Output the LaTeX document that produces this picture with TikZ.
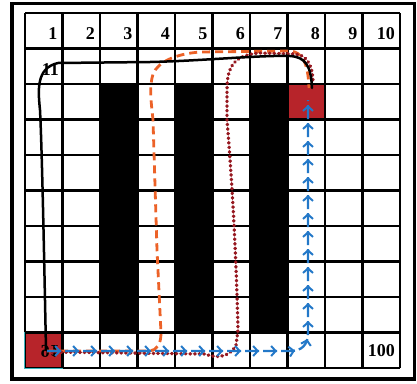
\documentclass[tikz,border=0pt]{standalone}
\usepackage{fontspec}
\setmainfont{Liberation Serif}
\usetikzlibrary{arrows.meta,decorations.markings}
\definecolor{cellred}{RGB}{183,36,42}
\definecolor{pathorange}{RGB}{236,98,40}
\definecolor{pathmaroon}{RGB}{150,24,32}
\definecolor{pathblue}{RGB}{35,120,200}
\definecolor{edgeteal}{RGB}{60,180,190}
\begin{document}
\begin{tikzpicture}[x=1pt,y=-1pt,
  gridline/.style={line width=2.2pt},
  framebox/.style={line width=3.8pt},
  num/.style={font=\fontsize{18}{18}\selectfont\bfseries, anchor=east, inner sep=0pt},
  redcell/.style={fill=cellred, draw=none, minimum width=37.5pt, minimum height=35.5pt, inner sep=0pt},
  blackroute/.style={line width=2.5pt, line cap=round},
  orangeroute/.style={pathorange, line width=2.8pt, dash pattern=on 8pt off 5pt},
  maroonroute/.style={pathmaroon, line width=3.4pt, line cap=round, dash pattern=on 0.6pt off 4pt},
  blueroute/.style={pathblue, line width=2.3pt, dash pattern=on 14pt off 4pt,
    postaction={decorate},
    decoration={markings, mark=between positions 14pt and 1 step 18pt with {\arrow[pathblue, line width=2pt]{Straight Barb[length=4.5pt,width=10pt]}}}}
]
\useasboundingbox (0,0) rectangle (417,383);
% frame
\draw[framebox] (12,3.5) rectangle (414.5,379);
% obstacles
\foreach \c in {2,4,6}
  \fill (25+37.5*\c,84) rectangle (62.5+37.5*\c,332.5);
% start and goal cells
\node[redcell] (s) at (43.75,350.25) {};
\node[redcell] (g) at (306.25,101.75) {};
% grid
\foreach \i in {0,...,10} {
  \draw[gridline] (25+37.5*\i,13) -- (25+37.5*\i,368);
  \draw[gridline] (25,13+35.5*\i) -- (400,13+35.5*\i);
}
\draw[edgeteal, line width=1pt] (s.north west) -- (s.south west) -- (s.south east);
% labels
\foreach \i in {1,...,10}
  \node[num] (n\i) at (20+37.5*\i,34) {\i};
\node[num] (n11) at (59,70) {11};
\node[num] (n100) at (395,351) {100};
\node[num] (n91) at (59,351) {\scalebox{1}[-1]{91}};
% routes
\coordinate (sa) at (47,351);
\coordinate (ga) at (308,100);
\draw[orangeroute] (sa) -- (150,351) .. controls (157,350) and (161,344) .. (161,333)
  -- (157,250) -- (153,120) .. controls (151,100) and (149,88) .. (153,74)
  .. controls (158,62) and (175,54) .. (200,52) -- (290,51)
  .. controls (302,52) and (308,62) .. (309,88);
\draw[maroonroute] (52,352) -- (205,354) .. controls (215,358) and (230,358) .. (236,345)
  -- (238,330) .. controls (236,250) and (232,180) .. (227,120) -- (227,90)
  .. controls (227,65) and (235,55) .. (260,53) -- (295,54)
  .. controls (305,55) and (312,62) .. (313,80);
\draw[blackroute] (46,350) .. controls (44,250) and (42,150) .. (40,110)
  .. controls (38,90) and (36,68) .. (58,63) -- (150,62)
  .. controls (200,61) and (260,55) .. (290,56)
  .. controls (305,57) and (311,65) .. (312,88);
\draw[blueroute] (sa) -- (290,351) .. controls (302,351) and (308,345) .. (308,332) -- (ga);
\end{tikzpicture}
\end{document}
